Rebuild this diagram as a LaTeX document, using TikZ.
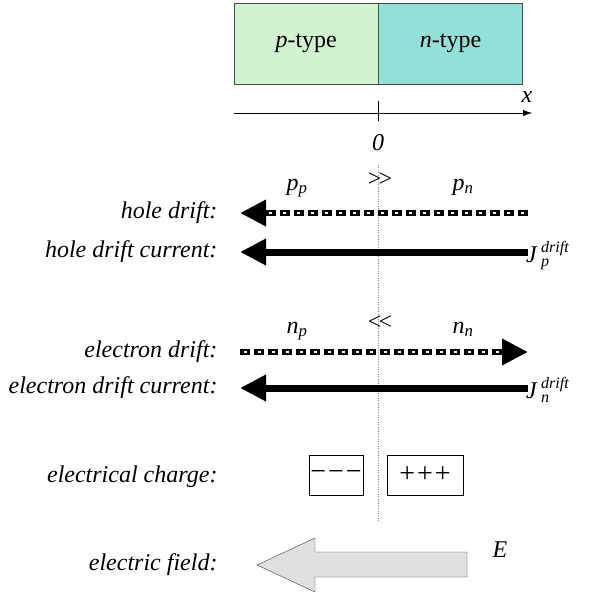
\documentclass[tikz,border=0pt]{standalone}
\usepackage{fontspec}
\setmainfont{Liberation Serif}
\usetikzlibrary{arrows.meta,positioning}
\definecolor{pfill}{HTML}{D0F3D0}
\definecolor{nfill}{HTML}{93E0D8}

\begin{document}
\begin{tikzpicture}[x=1pt, y=-1pt,
  font=\fontsize{24}{28}\selectfont,
  region/.style={draw=black!70, minimum width=144pt, minimum height=81pt, inner sep=0pt},
  lbl/.style={anchor=east, font=\fontsize{24}{28}\selectfont\itshape},
  idx/.style={inner sep=0pt, anchor=base west, align=left, font=\fontsize{16}{18}\selectfont\itshape},
  arr/.style={-{Triangle[length=26pt,width=25pt]}, line width=7pt},
  darr/.style={arr, line width=6.5pt, dash pattern=on 10pt off 4pt},
  hole/.style={white, line width=1.8pt},
  charge/.style={draw, inner sep=0pt, minimum height=40pt, font=\fontsize{28}{30}\selectfont},
  field/.style={draw=black!75, fill=black!12}
]
\useasboundingbox (0,0) rectangle (592,594);

% the junction
\node[region, fill=pfill, anchor=north west] (p) at (234,3) {\textit{p}-type};
\node[region, fill=nfill, right=0pt of p] (n) {\textit{n}-type};

% x axis
\coordinate (ax0) at (234,113);
\coordinate (ax1) at (532,113);
\draw[-{Latex[length=9pt,width=6pt]}] (ax0) -- (ax1);
\draw (378,101) -- (378,121);
\node (xlab) at (527,97) {\textit{x}};
\node (zero) at (378,143) {\textit{0}};

% junction line
\draw[black!50, dotted] (378,165) -- (378,522);

% holes
\node[anchor=base] (pp) at (297,190) {\textit{p}\textsubscript{\textit{p}}};
\node (gg) at (380,180) {>\kern-3pt>};
\node[anchor=base] (pn) at (463,190) {\textit{p}\textsubscript{\textit{n}}};

\node[lbl] (hd) at (221,213) {hole drift:};
\coordinate (hd0) at (528,213);
\coordinate (hd1) at (240,213);
\draw[darr] (hd0) -- (hd1);
\foreach \i in {0,...,18}
  \draw[hole] (524-14*\i,213) -- (521-14*\i,213);

\node[lbl] (hc) at (221,252) {hole drift current:};
\coordinate (hc0) at (528,252);
\coordinate (hc1) at (240,252);
\draw[arr] (hc0) -- (hc1);
\node[anchor=base west, inner sep=0pt] (jp) at (526,262) {\textit{J}};
\node[idx] (jpidx) at (541,266) {drift\\[-4pt]p};

% electrons
\node[anchor=base] (np) at (297,333) {\textit{n}\textsubscript{\textit{p}}};
\node (ll) at (380,323) {<\kern-3pt<};
\node[anchor=base] (nn) at (463,333) {\textit{n}\textsubscript{\textit{n}}};

\node[lbl] (ed) at (221,352) {electron drift:};
\coordinate (ed0) at (240,352);
\coordinate (ed1) at (528,352);
\draw[darr] (ed0) -- (ed1);
\foreach \i in {0,...,18}
  \draw[hole] (244+14*\i,352) -- (247+14*\i,352);

\node[lbl] (ec) at (221,388) {electron drift current:};
\coordinate (ec0) at (528,388);
\coordinate (ec1) at (240,388);
\draw[arr] (ec0) -- (ec1);
\node[anchor=base west, inner sep=0pt] (jn) at (526,398) {\textit{J}};
\node[idx] (jnidx) at (541,402) {drift\\[-4pt]n};

% space charge
\node[lbl] (ch) at (221,477) {electrical charge:};
\node[charge, minimum width=54pt] (neg) at (336,475) {−\kern2pt−\kern2pt−};
\node[charge, minimum width=76pt] (pos) at (425,475) {+\kern2pt+\kern2pt+};

% field
\node[lbl] (ef) at (221,565) {electric field:};
\draw[field] (467,552) -- (315,552) -- (315,538) -- (257,565) -- (315,592) -- (315,577) -- (467,577) -- cycle;
\node (elab) at (500,550) {\textit{E}};
\end{tikzpicture}
\end{document}
